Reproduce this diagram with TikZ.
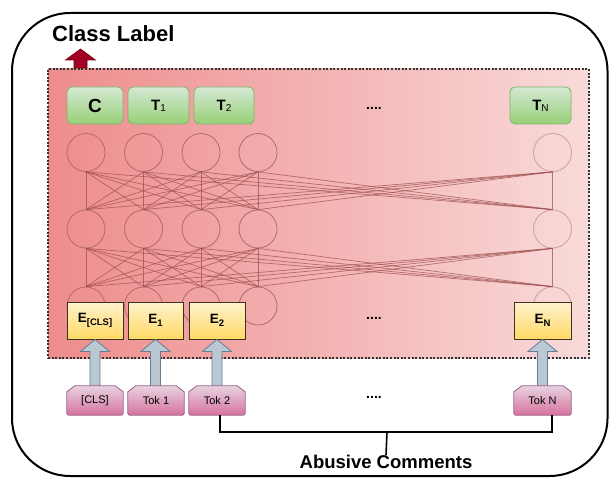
\documentclass[tikz,border=0pt]{standalone}
\usepackage{fontspec}
\setmainfont{Liberation Sans}
\usetikzlibrary{calc}

\definecolor{netred}{RGB}{160,80,80}
\definecolor{ringred}{RGB}{180,105,105}
\definecolor{ringpale}{RGB}{200,160,160}
\definecolor{encleft}{RGB}{238,140,140}
\definecolor{encright}{RGB}{249,218,218}
\definecolor{greentop}{RGB}{213,232,212}
\definecolor{greenbot}{RGB}{151,208,119}
\definecolor{greenline}{RGB}{130,179,102}
\definecolor{yellowtop}{RGB}{255,242,204}
\definecolor{yellowbot}{RGB}{255,217,102}
\definecolor{yellowline}{RGB}{60,50,30}
\definecolor{pinktop}{RGB}{232,210,224}
\definecolor{pinkbot}{RGB}{213,115,157}
\definecolor{pinkline}{RGB}{153,97,133}
\definecolor{arrowfill}{RGB}{186,200,211}
\definecolor{arrowline}{RGB}{100,125,145}
\definecolor{labelred}{RGB}{162,0,37}
\definecolor{labelredline}{RGB}{111,0,0}

% block arrow rising from the top of #1 to the bottom of #2
\newcommand\liftarrow[2]{%
  \path[inarrow] let \p1=(#2.south), \p2=(#1.north) in
    (\x1,\y1) -- (\x1+14.5pt,\y1-12pt) -- (\x1+5pt,\y1-12pt)
    -- (\x1+5pt,\y2-4pt) -- (\x1-5pt,\y2-4pt) -- (\x1-5pt,\y1-12pt)
    -- (\x1-14.5pt,\y1-12pt) -- cycle;}

% word-piece outline with clipped upper corners, over the frame of node #1
\newcommand\tokoutline[1]{%
  \path[tokfill] ([xshift=8pt]#1.north west) -- ([xshift=-8pt]#1.north east)
    -- ([yshift=-6pt]#1.north east) [rounded corners=2pt] -- (#1.south east)
    -- (#1.south west) [sharp corners] -- ([yshift=-6pt]#1.north west) -- cycle;}

\begin{document}
\begin{tikzpicture}[x=1pt,y=-1pt,
  frame/.style={draw=black,line width=2pt,rounded corners=58pt},
  encbox/.style={draw=black!80,line width=2.4pt,dash pattern=on 2pt off 1.6pt,
    minimum width=541pt,minimum height=289pt,inner sep=0pt},
  neuron/.style={circle,draw=ringred,line width=0.8pt,minimum size=38pt,inner sep=0pt},
  netline/.style={draw=netred,draw opacity=0.75,line width=0.7pt},
  outbox/.style={draw=greenline,line width=0.8pt,rounded corners=5pt,top color=greentop,bottom color=greenbot,
    minimum height=37pt,inner sep=0pt},
  embbox/.style={draw=yellowline,line width=0.9pt,top color=yellowtop,bottom color=yellowbot,
    minimum height=37pt,inner sep=0pt},
  tokframe/.style={rectangle,minimum height=29pt,minimum width=56pt,inner sep=0pt},
  tokfill/.style={draw=pinkline,line width=0.8pt,top color=pinktop,bottom color=pinkbot},
  toktext/.style={inner sep=0pt,font=\fontsize{11}{11}\selectfont},
  inarrow/.style={fill=arrowfill,draw=arrowline,line width=0.8pt},
  classarrow/.style={fill=labelred,draw=labelredline,line width=0.6pt},
  ellipsis/.style={font=\bfseries\fontsize{14}{14}\selectfont},
  bracket/.style={draw=black,line width=1.6pt},
  bigtitle/.style={font=\bfseries\fontsize{22}{22}\selectfont,inner sep=0pt},
  subtitle/.style={font=\bfseries\fontsize{18.5}{18.5}\selectfont,inner sep=0pt}
]
\useasboundingbox (0,0) rectangle (609,478);

% outer frame
\draw[frame] (12,13) rectangle (607.5,476);

% title
\node[bigtitle,anchor=base west] (title) at (52,42) {Class Label};

% encoder area: gradient ground, then the dotted border
\shade[left color=encleft,right color=encright] (48,69) rectangle (589,358);
\node[encbox] (enc) at (318.5,213.5) {};
\draw[classarrow] (80.5,49) -- (95.5,60) -- (87,60) -- (87,68) -- (74,68) -- (74,60) -- (65.5,60) -- cycle;

% three layers of neurons; the far column sits on the pale side
\foreach \r/\y in {1/152.5,2/229,3/306} {
  \foreach \c/\x in {1/86,2/143.5,3/201,4/258}
    \node[neuron] (n\r\c) at (\x,\y) {};
  \node[neuron,draw=ringpale] (n\r5) at (552.5,\y) {};
}
\foreach \c in {1,...,5}
  \foreach \d in {1,...,5} {
    \draw[netline] (n1\c.south) -- (n2\d.north);
    \draw[netline] (n2\c.south) -- (n3\d.north);
  }

% output tokens
\node[outbox,minimum width=56pt] (oc) at (95,105.5) {\bfseries\fontsize{19}{19}\selectfont C};
\node[outbox,minimum width=61pt] (o1) at (158.5,105.5) {\bfseries\fontsize{15}{15}\selectfont T\raisebox{-1pt}{\mdseries\fontsize{10}{10}\selectfont 1}};
\node[outbox,minimum width=60pt] (o2) at (224,105.5) {\bfseries\fontsize{15}{15}\selectfont T\raisebox{-1pt}{\mdseries\fontsize{10}{10}\selectfont 2}};
\node[outbox,minimum width=61pt] (on) at (540.5,105.5) {\bfseries\fontsize{15}{15}\selectfont T\raisebox{-1pt}{\mdseries\fontsize{10}{10}\selectfont N}};
\node[ellipsis] (odots) at (374,108) {....};

% input embeddings
\node[embbox,minimum width=56pt] (ecls) at (95,320.5) {\bfseries\fontsize{13.5}{13.5}\selectfont E\raisebox{-3.5pt}{\fontsize{9.5}{9.5}\selectfont [CLS]}};
\node[embbox,minimum width=55pt] (e1) at (155.5,320.5) {\bfseries\fontsize{13.5}{13.5}\selectfont E\raisebox{-3.5pt}{\fontsize{9.5}{9.5}\selectfont 1}};
\node[embbox,minimum width=56pt] (e2) at (217,320.5) {\bfseries\fontsize{13.5}{13.5}\selectfont E\raisebox{-3.5pt}{\fontsize{9.5}{9.5}\selectfont 2}};
\node[embbox,minimum width=57pt] (en) at (542.5,320.5) {\bfseries\fontsize{13.5}{13.5}\selectfont E\raisebox{-3.5pt}{\fontsize{9.5}{9.5}\selectfont N}};
\node[ellipsis] (edots) at (374,318) {....};

% word pieces: frames first, then arrows, outlines and labels on top
\node[tokframe] (tcls) at (95,400.5) {};
\node[tokframe] (t1) at (156,400.5) {};
\node[tokframe] (t2) at (217,400.5) {};
\node[tokframe,minimum width=57pt] (tn) at (542.5,400.5) {};
\liftarrow{tcls}{ecls}
\liftarrow{t1}{e1}
\liftarrow{t2}{e2}
\liftarrow{tn}{en}
\tokoutline{tcls}
\tokoutline{t1}
\tokoutline{t2}
\tokoutline{tn}
\node[toktext] (lcls) at (tcls) {[CLS]};
\node[toktext] (l1) at (t1) {Tok 1};
\node[toktext] (l2) at (t2) {Tok 2};
\node[toktext] (ln) at (tn) {Tok N};
\node[ellipsis] (tdots) at (374,397) {....};

% grouping bracket
\coordinate (brk) at (387,432);
\draw[bracket] ([xshift=3pt]t2.south) |- (brk) -| ([xshift=9.5pt]tn.south);
\node[subtitle] (group) at (386,462) {Abusive Comments};
\draw[bracket] (brk) -- (group.north);
\end{tikzpicture}
\end{document}
